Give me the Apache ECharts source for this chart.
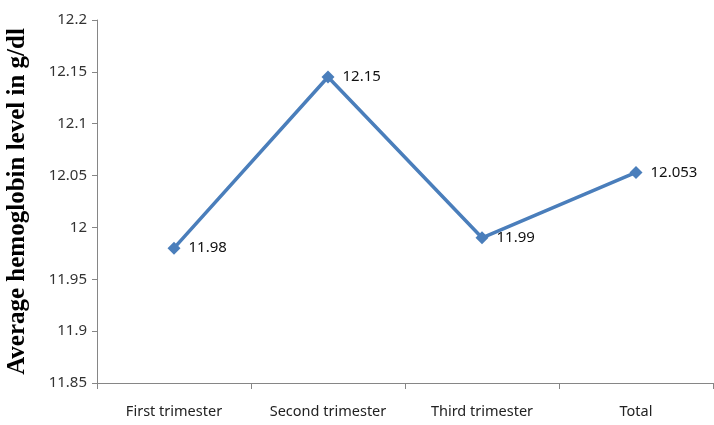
<!DOCTYPE html>
<html><head><meta charset="utf-8">
<script src="https://cdn.jsdelivr.net/npm/echarts@6/dist/echarts.min.js"></script>
<style>html,body{margin:0;padding:0;background:#fff}#c{width:714px;height:425px}</style>
</head><body><div id="c"></div>
<script>
const categories = ["First trimester", "Second trimester", "Third trimester", "Total"];
const values = [11.98, 12.145, 11.99, 12.053];
const valueLabels = ["11.98", "12.15", "11.99", "12.053"];
const yTicks = { min: 11.85, max: 12.2, interval: 0.05 };
const yTitle = "Average hemoglobin level in g/dl";

const chart = echarts.init(document.getElementById('c'));
chart.setOption({
  animation: false,
  grid: { left: 97, right: 1, top: 20, bottom: 42, outerBoundsMode: 'none', containLabel: false },
  xAxis: {
    type: 'category', data: categories, boundaryGap: true,
    axisLine: { lineStyle: { color: '#868686', width: 1 } },
    axisTick: { show: true, interval: 0, length: 6, lineStyle: { color: '#868686' } },
    axisLabel: { interval: 0, hideOverlap: false, color: '#222', fontFamily: 'Noto Sans', fontSize: 14.5, margin: 21 }
  },
  yAxis: {
    type: 'value', min: yTicks.min, max: yTicks.max, interval: yTicks.interval,
    name: yTitle, nameLocation: 'middle', nameGap: 67,
    nameTextStyle: { fontFamily: 'Liberation Serif', fontWeight: 'bold', fontSize: 25, color: '#000' },
    axisLine: { show: true, lineStyle: { color: '#868686', width: 1 } },
    axisTick: { show: true, length: 5, inside: false, lineStyle: { color: '#868686' } },
    splitLine: { show: false },
    axisLabel: { color: '#333', fontFamily: 'Noto Sans', fontSize: 15, margin: 10,
      formatter: v => String(Math.round(v * 100) / 100) }
  },
  series: [{
    type: 'line', data: values,
    symbol: 'diamond', symbolSize: 13,
    lineStyle: { color: '#4a7ebb', width: 3.5 },
    itemStyle: { color: '#4a7ebb' },
    label: { show: true, position: 'right', distance: 8, color: '#111',
      fontFamily: 'Noto Sans', fontSize: 15,
      formatter: p => valueLabels[p.dataIndex] }
  }]
});
</script></body></html>
